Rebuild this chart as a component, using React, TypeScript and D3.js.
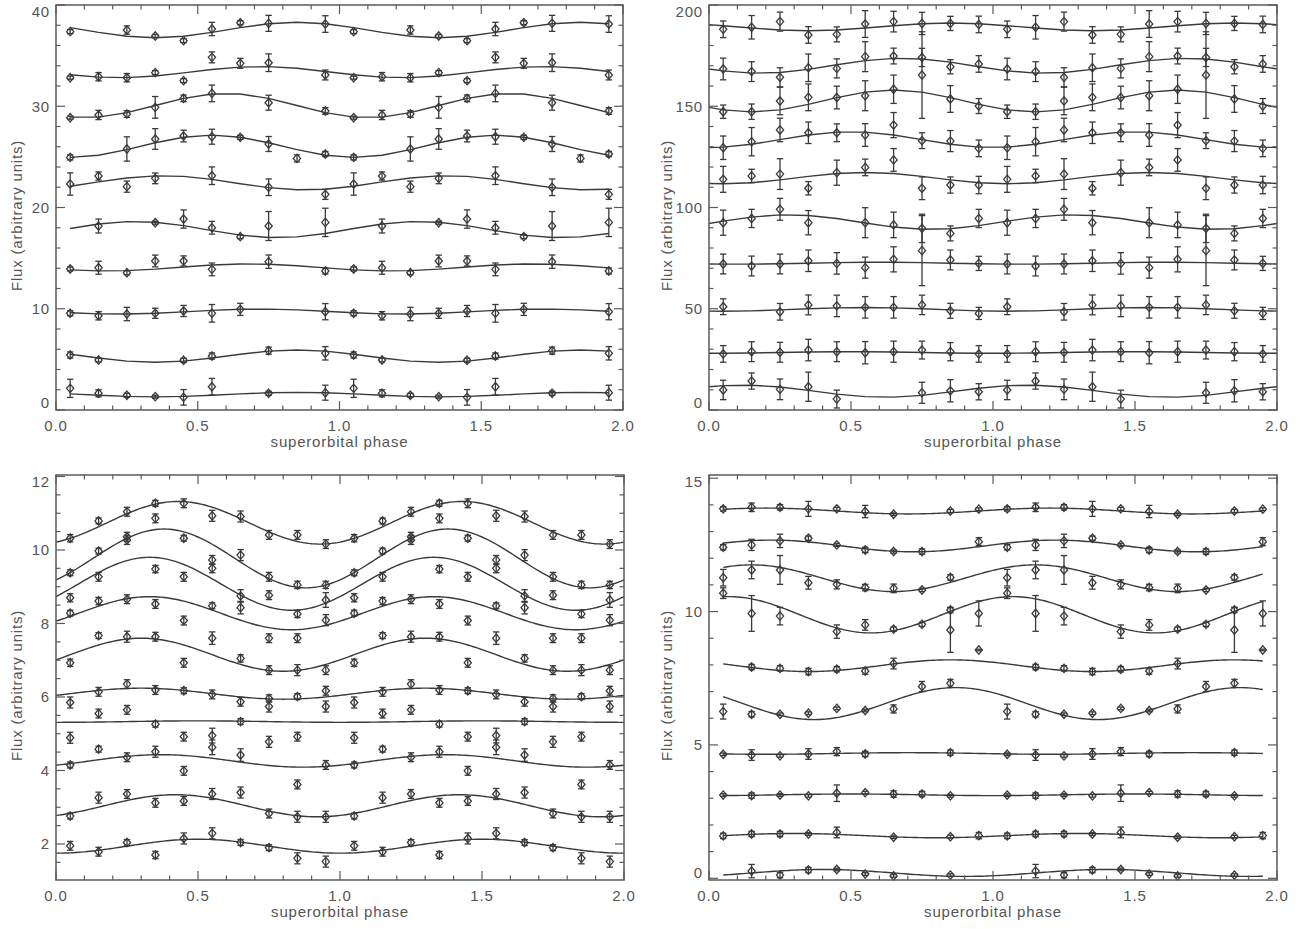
import React from 'react';
import * as d3 from 'd3';

// ---------------- shared ----------------
const BIN_PHASES = [0.05, 0.15, 0.25, 0.35, 0.45, 0.55, 0.65, 0.75, 0.85, 0.95];
const CYCLE_OFFSETS = [0, 1];
const X_MAJOR_TICKS = [0, 0.5, 1.0, 1.5, 2.0];
const X_TICK_LABELS = ['0.0', '0.5', '1.0', '1.5', '2.0'];
const X_TITLE = 'superorbital phase';
const Y_TITLE = 'Flux (arbitrary units)';

// ---------------- top-left panel ----------------
const TL_Y_TICKS = [0, 10, 20, 30, 40];
const TL_FLUX: (number | null)[][] = [
  [37.37, null, 37.53, 36.94, 36.48, 37.63, 38.25, 38.19, null, 38.12],
  [32.82, 32.92, 32.82, 33.32, 32.53, 34.83, 34.24, 34.3, null, 33.09],
  [28.87, 29.14, 29.23, 29.89, 30.78, 31.27, null, 30.35, null, 29.53],
  [24.95, null, 25.78, 26.77, 27.06, 26.99, 26.93, 26.27, 24.85, 25.28],
  [22.32, 23.11, 22.06, 22.88, null, 23.14, null, 22.0, null, 21.3],
  [null, 18.17, null, 18.5, 18.86, 18.0, 17.12, 18.17, null, 18.53],
  [13.93, 14.05, 13.56, 14.72, 14.72, 13.89, null, 14.65, null, 13.73],
  [9.55, 9.31, 9.48, 9.55, 9.78, 9.55, 9.94, null, null, 9.71],
  [5.43, 4.94, null, null, 4.91, 5.33, null, 5.86, null, 5.6],
  [2.14, 1.65, 1.45, 1.32, 1.25, 2.3, null, 1.65, null, 1.71],
];
const TL_ERR: number[][] = [
  [0.2, 0, 0.41, 0.15, 0.2, 0.66, 0.2, 0.79, 0, 0.82],
  [0.15, 0.41, 0.41, 0.2, 0.2, 0.54, 0.49, 0.87, 0, 0.49],
  [0.15, 0.46, 0.33, 1.07, 0.33, 0.82, 0, 0.74, 0, 0.33],
  [0.25, 0, 1.2, 1.02, 0.58, 0.74, 0.2, 0.74, 0.35, 0.25],
  [1.1, 0.4, 0.55, 0.53, 0, 0.87, 0, 0.82, 0, 0.5],
  [0, 0.69, 0, 0.15, 0.9, 0.63, 0.2, 1.43, 0, 1.4],
  [0.2, 0.64, 0.2, 0.58, 0.5, 0.63, 0, 0.66, 0, 0.3],
  [0.25, 0.41, 0.66, 0.5, 0.55, 0.87, 0.6, 0, 0, 0.8],
  [0.3, 0.2, 0, 0, 0.2, 0.3, 0, 0.35, 0, 0.66],
  [0.9, 0.35, 0.2, 0.15, 0.77, 0.82, 0, 0.2, 0, 0.74],
];
const TL_EXTRA: number[][] = [];
const TL_FIT_MEAN = [37.53, 33.37, 30.07, 26.05, 22.44, 17.82, 14.08, 9.72, 5.32, 1.52];
const TL_FIT_AMP = [0.76, 0.55, 1.2, 1.1, 0.7, 0.8, 0.35, 0.25, 0.61, 0.22];
const TL_FIT_PEAK = [0.85, 0.72, 0.6, 0.55, 0.38, 0.28, 0.68, 0.72, 0.85, 0.85];

// ---------------- top-right panel ----------------
const TR_Y_TICKS = [0, 50, 100, 150, 200];
const TR_FLUX: (number | null)[][] = [
  [188.0, 189.0, 191.8, 185.2, 185.5, 190.6, 191.8, 190.9, 190.9, 190.4],
  [168.4, 167.1, 164.3, 169.0, 168.7, 174.5, 174.8, 174.1, 169.5, 170.9],
  [147.3, 147.3, 152.6, 154.4, 154.3, 155.2, 158.4, null, 153.6, 150.1],
  [129.5, 132.5, 138.3, 136.9, 136.9, 135.8, 140.7, 133.0, 132.8, 129.2],
  [113.9, 115.6, 116.5, 109.5, 117.2, 119.8, 123.5, 109.5, 111.1, 111.1],
  [92.5, 94.6, 99.1, 92.5, null, 92.5, 91.4, 89.7, 87.2, 94.6],
  [72.1, 71.1, 72.1, 73.7, 72.4, 70.3, 74.4, null, 74.1, 72.4],
  [51.0, null, 48.5, 51.9, 51.4, 50.7, 50.7, 51.9, 49.0, 47.7],
  [27.7, 28.8, 28.5, 29.6, 28.8, 28.3, 28.8, 29.6, 28.8, 27.7],
  [9.9, 14.3, 10.2, 11.5, 5.4, null, null, 8.5, 9.5, 9.0],
];
const TR_ERR: number[][] = [
  [4.1, 5.8, 4.7, 4.1, 3.7, 6.6, 5.1, 5.5, 3.5, 4.1],
  [5.35, 4.9, 4.7, 6.8, 4.7, 7.4, 3.9, 4.5, 3.5, 4.1],
  [3.3, 3.8, 6.8, 6.6, 5.6, 7.4, 7.0, 0, 6.6, 3.7],
  [5.8, 7.0, 5.8, 5.3, 4.4, 5.6, 6.2, 3.9, 5.2, 4.1],
  [6.4, 3.3, 7.6, 3.3, 6.2, 4.1, 5.6, 5.6, 4.0, 4.3],
  [6.2, 4.5, 5.4, 6.0, 0, 7.4, 6.3, 7.0, 3.7, 4.5],
  [4.9, 4.9, 4.9, 5.3, 5.3, 5.2, 6.2, 0, 4.9, 3.5],
  [3.9, 0, 4.1, 4.9, 5.3, 5.3, 5.3, 4.8, 3.7, 3.0],
  [4.1, 4.9, 4.9, 5.3, 4.9, 5.5, 5.2, 4.4, 4.5, 4.1],
  [4.8, 4.0, 5.1, 7.2, 4.4, 0, 0, 5.2, 5.5, 4.0],
];
// [phase bin, flux, error]
const TR_EXTRA: number[][] = [
  [0.75, 165.4, 21.4],
  [0.75, 78.7, 17.3],
];
const TR_FIT_MEAN = [189.2, 170.0, 152.6, 133.5, 114.5, 92.8, 72.5, 49.7, 28.4, 9.3];
const TR_FIT_AMP = [1.9, 3.7, 5.4, 3.9, 2.8, 3.6, 0.5, 0.9, 0.4, 3.0];
const TR_FIT_PEAK = [0.85, 0.68, 0.65, 0.5, 0.55, 0.28, 0.6, 0.55, 0.5, 0.12];

// ---------------- bottom-left panel ----------------
const BL_Y_TICKS = [2, 4, 6, 8, 10, 12];
const BL_FLUX: (number | null)[][] = [
  [10.32, 10.79, 11.04, 11.27, 11.27, 10.93, 10.91, 10.41, 10.41, 10.16],
  [9.38, 9.97, 10.36, 10.86, 10.32, 9.73, 9.86, 9.27, 9.05, 9.05],
  [8.7, 9.27, 10.27, 9.48, 9.27, 9.5, 8.75, 8.77, 8.26, 8.64],
  [8.28, 8.61, 8.66, 8.53, 8.08, 8.48, 8.43, 7.6, 7.6, 8.09],
  [6.93, 7.67, 7.64, 7.64, 6.93, 7.6, 7.05, 6.73, 6.73, 6.73],
  [5.85, 6.14, 6.35, 6.19, 6.17, 6.07, 5.87, 5.96, 6.01, 6.17],
  [4.89, 5.55, 5.65, 5.26, 4.92, 4.95, 5.33, 5.74, 4.92, 5.74],
  [4.15, 4.58, 4.36, 4.51, 3.99, 4.63, 4.42, 4.78, 3.62, 4.15],
  [2.76, 3.26, 3.36, 3.12, 3.17, 3.36, 3.4, 2.83, 2.74, 2.74],
  [1.95, 1.79, 2.04, 1.7, 2.15, 2.29, 2.04, 1.9, 1.61, 1.52],
];
const BL_ERR: number[][] = [
  [0.1, 0.08, 0.12, 0.08, 0.12, 0.15, 0.15, 0.12, 0.12, 0.12],
  [0.08, 0.08, 0.12, 0.12, 0.08, 0.12, 0.15, 0.12, 0.1, 0.1],
  [0.11, 0.12, 0.12, 0.1, 0.12, 0.12, 0.17, 0.12, 0.1, 0.2],
  [0.08, 0.1, 0.12, 0.12, 0.12, 0.08, 0.17, 0.12, 0.12, 0.15],
  [0.1, 0.08, 0.15, 0.12, 0.12, 0.17, 0.1, 0.12, 0.15, 0.12],
  [0.15, 0.12, 0.12, 0.12, 0.08, 0.12, 0.12, 0.1, 0.08, 0.12],
  [0.15, 0.12, 0.12, 0.08, 0.12, 0.2, 0.08, 0.15, 0.12, 0.15],
  [0.08, 0.08, 0.12, 0.15, 0.12, 0.2, 0.17, 0.15, 0.12, 0.12],
  [0.08, 0.15, 0.12, 0.12, 0.12, 0.15, 0.15, 0.12, 0.15, 0.15],
  [0.12, 0.12, 0.08, 0.1, 0.15, 0.15, 0.08, 0.08, 0.15, 0.15],
];
const BL_EXTRA: number[][] = [];
const BL_FIT_MEAN = [10.74, 9.77, 9.08, 8.28, 7.15, 6.09, 5.33, 4.26, 3.04, 1.94];
const BL_FIT_AMP = [0.58, 0.8, 0.72, 0.45, 0.45, 0.15, 0.02, 0.17, 0.3, 0.19];
const BL_FIT_PEAK = [0.43, 0.38, 0.33, 0.33, 0.3, 0.3, 0.5, 0.37, 0.42, 0.5];

// ---------------- bottom-right panel ----------------
const BR_Y_TICKS = [0, 5, 10, 15];
const BR_FLUX: (number | null)[][] = [
  [13.85, 13.91, 13.91, 13.85, 13.85, 13.75, 13.65, null, 13.77, 13.84],
  [12.41, 12.5, 12.65, 12.75, 12.5, 12.31, 12.25, 12.25, null, 12.62],
  [11.27, 11.56, 11.56, 11.08, 11.02, 10.9, 10.87, 10.81, 11.28, null],
  [10.69, 9.93, 9.83, null, 9.25, 9.5, 9.34, 9.52, 10.06, 9.93],
  [null, 7.92, 7.87, 7.75, 7.84, 7.77, 8.05, null, null, null],
  [6.25, 6.15, 6.15, 6.19, 6.37, 6.29, 6.35, 7.19, 7.31, null],
  [4.65, 4.62, 4.59, 4.66, 4.75, 4.66, null, null, 4.71, null],
  [3.12, 3.1, 3.12, 3.09, 3.19, 3.21, 3.16, 3.16, 3.09, null],
  [1.59, 1.66, 1.66, 1.66, 1.72, null, 1.54, null, 1.56, 1.6],
  [null, 0.27, 0.12, 0.31, 0.33, 0.16, 0.09, null, 0.12, null],
];
const BR_ERR: number[][] = [
  [0.08, 0.16, 0.1, 0.28, 0.06, 0.23, 0.05, 0, 0.06, 0.05],
  [0.1, 0.21, 0.25, 0.08, 0.06, 0.1, 0.06, 0.1, 0, 0.15],
  [0.31, 0.33, 0.54, 0.24, 0.17, 0.12, 0.16, 0.06, 0.1, 0],
  [0.2, 0.67, 0.33, 0, 0.25, 0.2, 0.08, 0.08, 0.1, 0.47],
  [0, 0.1, 0.1, 0.12, 0.1, 0.12, 0.2, 0, 0, 0],
  [0.28, 0.1, 0.05, 0.05, 0.05, 0.05, 0.15, 0.19, 0.15, 0],
  [0.05, 0.2, 0.05, 0.2, 0.15, 0.1, 0, 0, 0.1, 0],
  [0.05, 0.1, 0.05, 0.05, 0.31, 0.05, 0.12, 0.1, 0.05, 0],
  [0.1, 0.1, 0.1, 0.05, 0.2, 0, 0.05, 0, 0.05, 0.12],
  [0, 0.25, 0.1, 0.1, 0.05, 0.05, 0.05, 0, 0.05, 0],
];
const BR_EXTRA: number[][] = [
  [0.85, 9.31, 0.84],
  [0.95, 8.56, 0.03],
];
const BR_FIT_MEAN = [13.77, 12.46, 11.25, 9.88, 7.97, 6.55, 4.68, 3.13, 1.6, 0.2];
const BR_FIT_AMP = [0.11, 0.22, 0.5, 0.68, 0.22, 0.6, 0.03, 0.03, 0.08, 0.13];
const BR_FIT_PEAK = [0.2, 0.22, 0.15, 0.07, 0.85, 0.87, 0.7, 0.5, 0.3, 0.4];

// ---------------- layout ----------------
type Cfg = {
  flux: (number | null)[][];
  err: number[][];
  extra: number[][];
  fitMean: number[];
  fitAmp: number[];
  fitPeak: number[];
  yTicks: number[];
  yMinor: number;
  box: { x0: number; x1: number; y0: number; y1: number };
  yDomain: [number, number];
  curve: number[];
  yTitleX: number;
};

const stepped = (from: number, n: number, step: number) => d3.range(n).map((i) => +(from + i * step).toFixed(4));

const PANELS: Cfg[] = [
  {
    flux: TL_FLUX, err: TL_ERR, extra: TL_EXTRA, fitMean: TL_FIT_MEAN, fitAmp: TL_FIT_AMP, fitPeak: TL_FIT_PEAK,
    yTicks: TL_Y_TICKS, yMinor: 2, box: { x0: 56, x1: 623, y0: 5, y1: 410 }, yDomain: [0, 40],
    curve: stepped(0.05, 20, 0.1), yTitleX: 22,
  },
  {
    flux: TR_FLUX, err: TR_ERR, extra: TR_EXTRA, fitMean: TR_FIT_MEAN, fitAmp: TR_FIT_AMP, fitPeak: TR_FIT_PEAK,
    yTicks: TR_Y_TICKS, yMinor: 10, box: { x0: 709, x1: 1277, y0: 5, y1: 410 }, yDomain: [0, 200],
    curve: [0, ...stepped(0.05, 20, 0.1), 2], yTitleX: 672,
  },
  {
    flux: BL_FLUX, err: BL_ERR, extra: BL_EXTRA, fitMean: BL_FIT_MEAN, fitAmp: BL_FIT_AMP, fitPeak: BL_FIT_PEAK,
    yTicks: BL_Y_TICKS, yMinor: 0.5, box: { x0: 56, x1: 624, y0: 475, y1: 880 }, yDomain: [1.02, 12.04],
    curve: stepped(0, 201, 0.01), yTitleX: 22,
  },
  {
    flux: BR_FLUX, err: BR_ERR, extra: BR_EXTRA, fitMean: BR_FIT_MEAN, fitAmp: BR_FIT_AMP, fitPeak: BR_FIT_PEAK,
    yTicks: BR_Y_TICKS, yMinor: 1, box: { x0: 709, x1: 1277, y0: 475, y1: 880 }, yDomain: [-0.064, 15.12],
    curve: stepped(0.05, 191, 0.01), yTitleX: 672,
  },
];

const INK = '#3a3a3a';
const FRAME = '#5a5a5a';
const TEXT = '#555555';
const FONT = '"Liberation Sans", Arial, Helvetica, sans-serif';

function Panel({ cfg }: { cfg: Cfg }) {
  const { box } = cfg;
  const x = d3.scaleLinear().domain([0, 2]).range([box.x0, box.x1]);
  const y = d3.scaleLinear().domain(cfg.yDomain).range([box.y1, box.y0]);

  const xMinor = d3.range(0, 21).map((i) => i / 10).filter((v) => Math.abs(v * 2 - Math.round(v * 2)) > 1e-6);
  const yStart = Math.ceil(cfg.yDomain[0] / cfg.yMinor - 1e-9) * cfg.yMinor;
  const yMinor = d3
    .range(yStart, cfg.yDomain[1] + 1e-9, cfg.yMinor)
    .filter((v) => !cfg.yTicks.some((t) => Math.abs(t - v) < 1e-6));

  const line = d3
    .line<number>()
    .x((p) => x(p))
    .y((p, i) => 0);

  const curves = cfg.fitMean.map((m, s) => {
    const g = d3
      .line<number>()
      .x((p) => x(p))
      .y((p) => y(m + cfg.fitAmp[s] * Math.cos(2 * Math.PI * (p - cfg.fitPeak[s]))));
    return g(cfg.curve) || '';
  });
  void line;

  type Pt = { px: number; py: number; e0: number; e1: number; hasErr: boolean };
  const pts: Pt[] = [];
  cfg.flux.forEach((row, s) => {
    row.forEach((v, i) => {
      if (v === null) return;
      const e = cfg.err[s][i];
      CYCLE_OFFSETS.forEach((c) => {
        pts.push({ px: x(BIN_PHASES[i] + c), py: y(v), e0: y(v - e), e1: y(v + e), hasErr: e > 0 });
      });
    });
  });
  cfg.extra.forEach(([ph, v, e]) => {
    CYCLE_OFFSETS.forEach((c) => {
      pts.push({ px: x(ph + c), py: y(v), e0: y(v - e), e1: y(v + e), hasErr: e > 0 });
    });
  });

  const dW = 3.6;
  const dH = 4.2;
  const cap = 3.2;
  const MAJ = 9;
  const MIN = 4.5;

  const labelY = (t: number) => {
    const py = y(t);
    if (py - box.y0 < 5) return box.y0 + 6;
    if (box.y1 - py < 6) return box.y1 - 8;
    return py;
  };

  const midY = (box.y0 + box.y1) / 2 + 8;

  return (
    <g>
      {/* fitted curves */}
      {curves.map((d, i) => (
        <path key={'c' + i} d={d} fill="none" stroke={INK} strokeWidth={1.4} />
      ))}
      {/* error bars + diamonds */}
      {pts.map((p, i) => (
        <g key={'p' + i} stroke={INK} strokeWidth={1.3} fill="none">
          {p.hasErr && (
            <>
              <line x1={p.px} x2={p.px} y1={p.e0} y2={p.e1} />
              <line x1={p.px - cap} x2={p.px + cap} y1={p.e0} y2={p.e0} />
              <line x1={p.px - cap} x2={p.px + cap} y1={p.e1} y2={p.e1} />
            </>
          )}
          <path d={`M${p.px},${p.py - dH}L${p.px + dW},${p.py}L${p.px},${p.py + dH}L${p.px - dW},${p.py}Z`} />
        </g>
      ))}
      {/* frame */}
      <rect x={box.x0} y={box.y0} width={box.x1 - box.x0} height={box.y1 - box.y0} fill="none" stroke={FRAME} strokeWidth={1.5} />
      {/* x ticks */}
      <g stroke={FRAME} strokeWidth={1.2}>
        {X_MAJOR_TICKS.map((t, i) => (
          <g key={'xm' + i}>
            <line x1={x(t)} x2={x(t)} y1={box.y1} y2={box.y1 - MAJ} />
            <line x1={x(t)} x2={x(t)} y1={box.y0} y2={box.y0 + MAJ} />
          </g>
        ))}
        {xMinor.map((t, i) => (
          <g key={'xn' + i}>
            <line x1={x(t)} x2={x(t)} y1={box.y1} y2={box.y1 - MIN} />
            <line x1={x(t)} x2={x(t)} y1={box.y0} y2={box.y0 + MIN} />
          </g>
        ))}
        {cfg.yTicks.map((t, i) => (
          <g key={'ym' + i}>
            <line x1={box.x0} x2={box.x0 + MAJ} y1={y(t)} y2={y(t)} />
            <line x1={box.x1} x2={box.x1 - MAJ} y1={y(t)} y2={y(t)} />
          </g>
        ))}
        {yMinor.map((t, i) => (
          <g key={'yn' + i}>
            <line x1={box.x0} x2={box.x0 + MIN} y1={y(t)} y2={y(t)} />
            <line x1={box.x1} x2={box.x1 - MIN} y1={y(t)} y2={y(t)} />
          </g>
        ))}
      </g>
      {/* labels */}
      <g fill={TEXT} fontFamily={FONT} fontSize={15} letterSpacing={0.8}>
        {X_MAJOR_TICKS.map((t, i) => (
          <text key={'xl' + i} x={x(t)} y={box.y1 + 21} textAnchor="middle">
            {X_TICK_LABELS[i]}
          </text>
        ))}
        {cfg.yTicks.map((t, i) => (
          <text key={'yl' + i} x={box.x0 - 6} y={labelY(t)} textAnchor="end" dominantBaseline="central">
            {String(t)}
          </text>
        ))}
        <text x={(box.x0 + box.x1) / 2} y={box.y1 + 37} textAnchor="middle">
          {X_TITLE}
        </text>
        <text transform={`translate(${cfg.yTitleX},${midY}) rotate(-90)`} textAnchor="middle">
          {Y_TITLE}
        </text>
      </g>
    </g>
  );
}

export default function App() {
  return (
    <svg width={1310} height={929} style={{ display: 'block', position: 'absolute', left: 0, top: 0, background: '#fff' }}>
      <rect x={0} y={0} width={1310} height={929} fill="#fff" />
      {PANELS.map((p, i) => (
        <Panel key={i} cfg={p} />
      ))}
    </svg>
  );
}
